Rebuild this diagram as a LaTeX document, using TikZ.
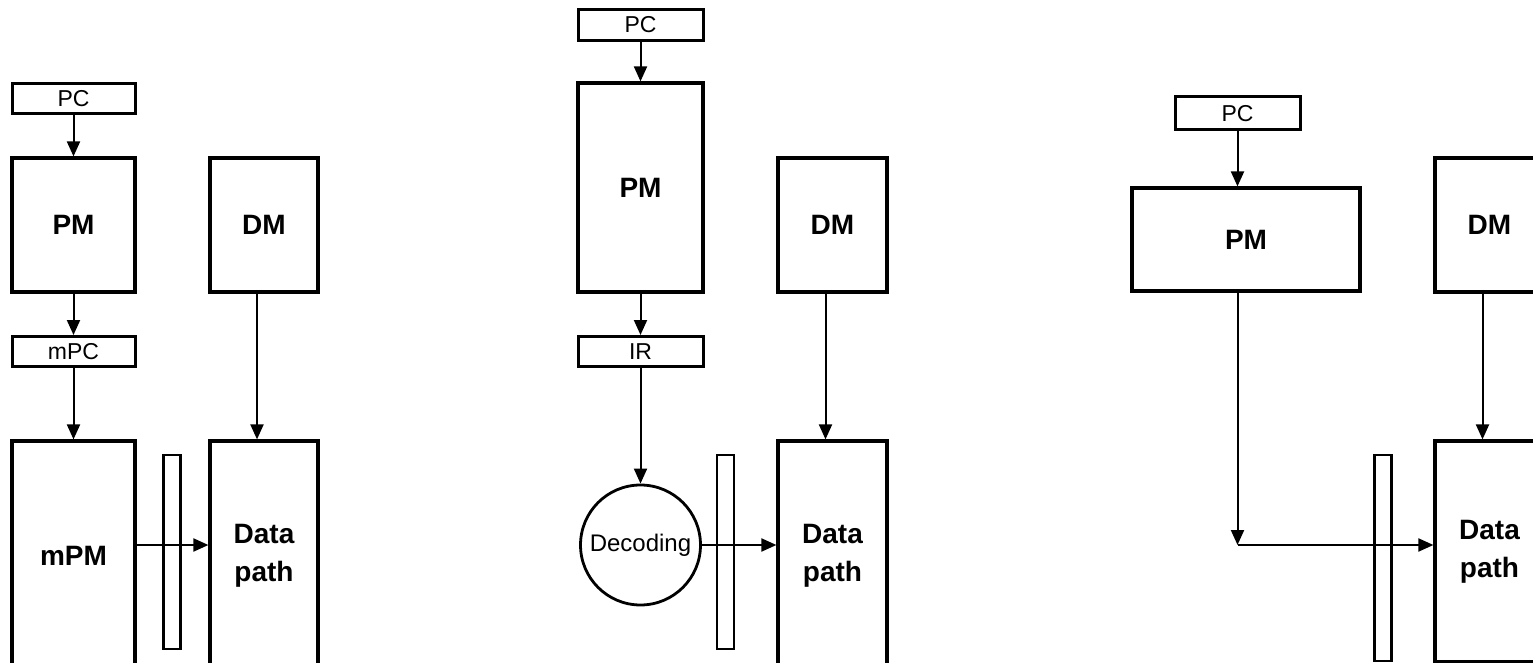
\documentclass[tikz,border=0pt]{standalone}
\usepackage{fontspec}
\setmainfont{Liberation Sans}
\usetikzlibrary{arrows.meta}

\begin{document}
\begin{tikzpicture}[x=1pt, y=-1pt,
  >={Triangle[length=15pt, width=13pt]},
  reg/.style={draw, line width=3pt, minimum height=30pt, inner sep=0pt,
    font=\fontsize{23pt}{26pt}\selectfont},
  mem/.style={draw, line width=3.2pt, inner sep=0pt, align=center,
    font=\fontsize{28pt}{38pt}\selectfont\bfseries},
  latch/.style={draw, line width=2.8pt, minimum width=17pt,
    minimum height=194pt, inner sep=0pt},
  dec/.style={circle, draw, line width=2.8pt, minimum size=120pt, inner sep=0pt,
    font=\fontsize{24pt}{26pt}\selectfont},
  arr/.style={->, line width=2pt},
]

% Page frame
\useasboundingbox (0,0) rectangle (1533,663);
\clip (0,0) rectangle (1533,663);

% =============================================
% Left: microprogrammed control
% =============================================
\node[reg, minimum width=123pt] (pcA) at (73.5,98.5) {PC};
\node[mem, minimum width=123pt, minimum height=134pt] (pmA) at (73.5,225) {PM};
\node[mem, minimum width=108pt, minimum height=134pt] (dmA) at (264,225) {DM};
\node[reg, minimum width=123pt] (mpcA) at (73.5,351.5) {mPC};
\node[mem, minimum width=123pt, minimum height=230pt] (mpmA) at (73.5,556) {mPM};
\node[latch] (ltA) at (172,552) {};
\node[mem, minimum width=108pt, minimum height=230pt] (dpA) at (264,556) {Data\\path};

\draw[arr] (pcA.south) -- (pmA.north);
\draw[arr] (pmA.south) -- (mpcA.north);
\draw[arr] (mpcA.south) -- (mpmA.north);
\draw[arr] ([xshift=-7pt]dmA.south) -- ([xshift=-7pt]dpA.north);
\coordinate (busA) at ([yshift=11pt]mpmA.east);
\draw[arr] (busA) -- (busA -| dpA.west);

% =============================================
% Middle: instruction register + decoding
% =============================================
\node[reg, minimum width=125pt, minimum height=31pt] (pcB) at (640.5,25) {PC};
\node[mem, minimum width=125pt, minimum height=209pt] (pmB) at (640.5,187.5) {PM};
\node[mem, minimum width=109pt, minimum height=134pt] (dmB) at (832.5,225) {DM};
\node[reg, minimum width=125pt] (irB) at (640.5,351.5) {IR};
\node[dec] (decB) at (640.5,545) {Decoding};
\node[latch] (ltB) at (725.5,552) {};
\node[mem, minimum width=109pt, minimum height=230pt] (dpB) at (832.5,556) {Data\\path};

\draw[arr] (pcB.south) -- (pmB.north);
\draw[arr] (pmB.south) -- (irB.north);
\draw[arr] (irB.south) -- (decB.north);
\draw[arr] ([xshift=-7pt]dmB.south) -- ([xshift=-7pt]dpB.north);
\draw[arr] (decB.east) -- (decB.east -| dpB.west);

% =============================================
% Right: direct control word
% =============================================
\node[reg, minimum width=125pt, minimum height=33pt] (pcC) at (1237.5,113.5) {PC};
\node[mem, minimum width=228pt, minimum height=103pt] (pmC) at (1246,239.5) {PM};
\node[mem, minimum width=109pt, minimum height=134pt] (dmC) at (1489.5,225) {DM};
\node[latch, minimum height=206pt] (ltC) at (1383,558) {};
\node[mem, minimum width=109pt, minimum height=221pt] (dpC) at (1489.5,551.5) {Data\\path};

\coordinate (busC) at (1237.5,545);
\draw[arr] (pcC.south) -- (pcC.south |- pmC.north);
\draw[arr] (pmC.south -| pcC.south) -- (busC);
\draw[arr] (busC) -- (busC -| dpC.west);
\draw[arr] ([xshift=-7pt]dmC.south) -- ([xshift=-7pt]dpC.north);

\end{tikzpicture}
\end{document}
